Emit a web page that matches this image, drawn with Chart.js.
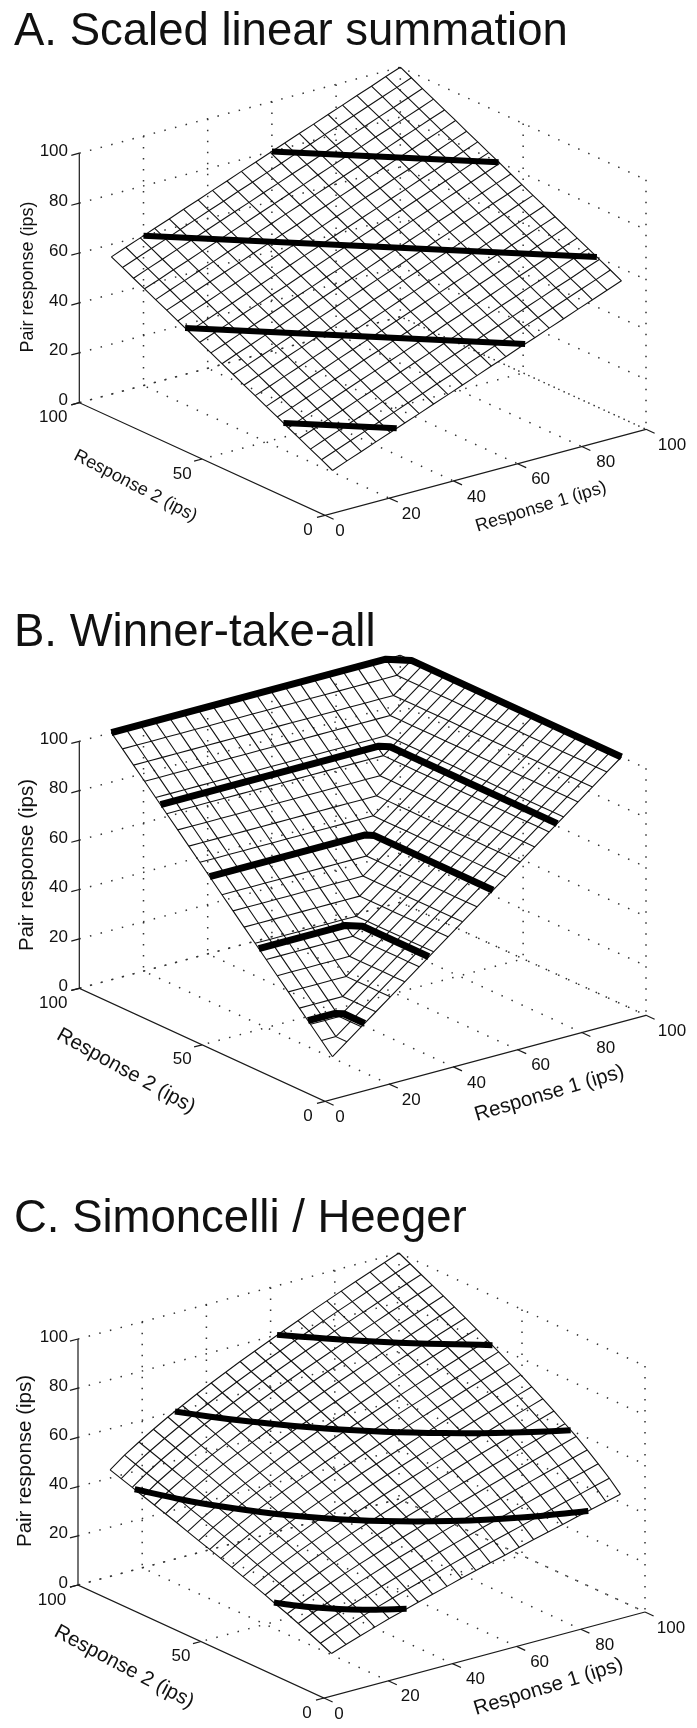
<!DOCTYPE html>
<html>
<head>
<meta charset="utf-8">
<title>Pair response surfaces</title>
<script src="https://cdn.jsdelivr.net/npm/chart.js@4"></script>
<style>
  html, body { margin: 0; background: #fff; }
  #page { position: relative; width: 697px; height: 1728px; }
  canvas { position: absolute; left: 0; }
</style>
</head>
<body>
<div id="page">
  <canvas id="chartA" width="697" height="570" style="top:0"></canvas>
  <canvas id="chartB" width="697" height="580" style="top:570px"></canvas>
  <canvas id="chartC" width="697" height="578" style="top:1150px"></canvas>
</div>
<script>
// ====== Data ======
const meshResponses = [10, 14.5, 19, 23.5, 28, 32.5, 37, 41.5, 46, 50.5, 55, 59.5, 64, 68.5, 73, 77.5, 82, 86.5, 91, 95.5, 100];
const response1Ticks = [0, 20, 40, 60, 80, 100];
const response2Ticks = [0, 50, 100];
const pairTicks = [0, 20, 40, 60, 80, 100];

// surfaces are symmetric, so each row i holds only the columns j <= i
const surfaceA = [
  [10],
  [12.3, 14.5],
  [14.5, 16.8, 19],
  [16.8, 19, 21.3, 23.5],
  [19, 21.3, 23.5, 25.8, 28],
  [21.3, 23.5, 25.8, 28, 30.3, 32.5],
  [23.5, 25.8, 28, 30.3, 32.5, 34.8, 37],
  [25.8, 28, 30.3, 32.5, 34.8, 37, 39.3, 41.5],
  [28, 30.3, 32.5, 34.8, 37, 39.3, 41.5, 43.8, 46],
  [30.3, 32.5, 34.8, 37, 39.3, 41.5, 43.8, 46, 48.3, 50.5],
  [32.5, 34.8, 37, 39.3, 41.5, 43.8, 46, 48.3, 50.5, 52.8, 55],
  [34.8, 37, 39.3, 41.5, 43.8, 46, 48.3, 50.5, 52.8, 55, 57.3, 59.5],
  [37, 39.3, 41.5, 43.8, 46, 48.3, 50.5, 52.8, 55, 57.3, 59.5, 61.8, 64],
  [39.3, 41.5, 43.8, 46, 48.3, 50.5, 52.8, 55, 57.3, 59.5, 61.8, 64, 66.3, 68.5],
  [41.5, 43.8, 46, 48.3, 50.5, 52.8, 55, 57.3, 59.5, 61.8, 64, 66.3, 68.5, 70.8, 73],
  [43.8, 46, 48.3, 50.5, 52.8, 55, 57.3, 59.5, 61.8, 64, 66.3, 68.5, 70.8, 73, 75.3, 77.5],
  [46, 48.3, 50.5, 52.8, 55, 57.3, 59.5, 61.8, 64, 66.3, 68.5, 70.8, 73, 75.3, 77.5, 79.8, 82],
  [48.3, 50.5, 52.8, 55, 57.3, 59.5, 61.8, 64, 66.3, 68.5, 70.8, 73, 75.3, 77.5, 79.8, 82, 84.3, 86.5],
  [50.5, 52.8, 55, 57.3, 59.5, 61.8, 64, 66.3, 68.5, 70.8, 73, 75.3, 77.5, 79.8, 82, 84.3, 86.5, 88.8, 91],
  [52.8, 55, 57.3, 59.5, 61.8, 64, 66.3, 68.5, 70.8, 73, 75.3, 77.5, 79.8, 82, 84.3, 86.5, 88.8, 91, 93.3, 95.5],
  [55, 57.3, 59.5, 61.8, 64, 66.3, 68.5, 70.8, 73, 75.3, 77.5, 79.8, 82, 84.3, 86.5, 88.8, 91, 93.3, 95.5, 97.8, 100]
];
const surfaceB = [
  [10],
  [14.5, 14.5],
  [19, 19, 19],
  [23.5, 23.5, 23.5, 23.5],
  [28, 28, 28, 28, 28],
  [32.5, 32.5, 32.5, 32.5, 32.5, 32.5],
  [37, 37, 37, 37, 37, 37, 37],
  [41.5, 41.5, 41.5, 41.5, 41.5, 41.5, 41.5, 41.5],
  [46, 46, 46, 46, 46, 46, 46, 46, 46],
  [50.5, 50.5, 50.5, 50.5, 50.5, 50.5, 50.5, 50.5, 50.5, 50.5],
  [55, 55, 55, 55, 55, 55, 55, 55, 55, 55, 55],
  [59.5, 59.5, 59.5, 59.5, 59.5, 59.5, 59.5, 59.5, 59.5, 59.5, 59.5, 59.5],
  [64, 64, 64, 64, 64, 64, 64, 64, 64, 64, 64, 64, 64],
  [68.5, 68.5, 68.5, 68.5, 68.5, 68.5, 68.5, 68.5, 68.5, 68.5, 68.5, 68.5, 68.5, 68.5],
  [73, 73, 73, 73, 73, 73, 73, 73, 73, 73, 73, 73, 73, 73, 73],
  [77.5, 77.5, 77.5, 77.5, 77.5, 77.5, 77.5, 77.5, 77.5, 77.5, 77.5, 77.5, 77.5, 77.5, 77.5, 77.5],
  [82, 82, 82, 82, 82, 82, 82, 82, 82, 82, 82, 82, 82, 82, 82, 82, 82],
  [86.5, 86.5, 86.5, 86.5, 86.5, 86.5, 86.5, 86.5, 86.5, 86.5, 86.5, 86.5, 86.5, 86.5, 86.5, 86.5, 86.5, 86.5],
  [91, 91, 91, 91, 91, 91, 91, 91, 91, 91, 91, 91, 91, 91, 91, 91, 91, 91, 91],
  [95.5, 95.5, 95.5, 95.5, 95.5, 95.5, 95.5, 95.5, 95.5, 95.5, 95.5, 95.5, 95.5, 95.5, 95.5, 95.5, 95.5, 95.5, 95.5, 95.5],
  [100, 100, 100, 100, 100, 100, 100, 100, 100, 100, 100, 100, 100, 100, 100, 100, 100, 100, 100, 100, 100]
];
const surfaceC = [
  [10],
  [12.1, 14.5],
  [14.1, 16.7, 19],
  [16, 18.7, 21.2, 23.5],
  [17.9, 20.7, 23.3, 25.7, 28],
  [19.6, 22.6, 25.3, 27.8, 30.2, 32.5],
  [21.4, 24.5, 27.3, 29.9, 32.3, 34.7, 37],
  [23.1, 26.3, 29.2, 31.9, 34.4, 36.9, 39.2, 41.5],
  [24.7, 28, 31, 33.8, 36.4, 39, 41.4, 43.7, 46],
  [26.4, 29.8, 32.9, 35.7, 38.4, 41, 43.5, 45.9, 48.2, 50.5],
  [28, 31.5, 34.7, 37.6, 40.4, 43, 45.6, 48, 50.4, 52.7, 55],
  [29.6, 33.2, 36.4, 39.5, 42.3, 45, 47.6, 50.1, 52.5, 54.9, 57.2, 59.5],
  [31.1, 34.9, 38.2, 41.3, 44.2, 46.9, 49.6, 52.1, 54.6, 57, 59.4, 61.7, 64],
  [32.7, 36.5, 39.9, 43.1, 46, 48.8, 51.5, 54.2, 56.7, 59.2, 61.6, 63.9, 66.2, 68.5],
  [34.3, 38.1, 41.6, 44.8, 47.9, 50.7, 53.5, 56.1, 58.7, 61.2, 63.7, 66.1, 68.4, 70.7, 73],
  [35.8, 39.8, 43.3, 46.6, 49.7, 52.6, 55.4, 58.1, 60.7, 63.3, 65.8, 68.2, 70.6, 72.9, 75.2, 77.5],
  [37.3, 41.4, 45, 48.3, 51.5, 54.4, 57.3, 60, 62.7, 65.3, 67.8, 70.3, 72.7, 75.1, 77.4, 79.7, 82],
  [38.8, 43, 46.6, 50, 53.2, 56.3, 59.2, 62, 64.7, 67.3, 69.9, 72.4, 74.8, 77.2, 79.6, 81.9, 84.2, 86.5],
  [40.3, 44.5, 48.3, 51.7, 55, 58.1, 61, 63.8, 66.6, 69.3, 71.9, 74.4, 76.9, 79.3, 81.8, 84.1, 86.4, 88.7, 91],
  [41.8, 46.1, 49.9, 53.4, 56.7, 59.9, 62.8, 65.7, 68.5, 71.2, 73.9, 76.4, 79, 81.4, 83.9, 86.3, 88.6, 90.9, 93.2, 95.5],
  [43.3, 47.7, 51.5, 55.1, 58.5, 61.6, 64.7, 67.6, 70.4, 73.2, 75.8, 78.4, 81, 83.5, 86, 88.4, 90.8, 93.1, 95.4, 97.7, 100]
];

// thick iso-response lines, points are [response 1, response 2, pair response]
const contoursA = [
  [[60, 100, 80], [100, 60, 80]],
  [[20, 100, 60], [100, 20, 60]],
  [[10, 70, 40], [70, 10, 40]],
  [[10, 30, 20], [30, 10, 20]]
];
const contoursB = [
  [[10, 100, 100], [95.5, 100, 100], [100, 95.5, 100], [100, 10, 100]],
  [[10, 80, 80], [78, 80, 80], [80, 78, 80], [80, 10, 80]],
  [[10, 60, 60], [58.5, 60, 60], [60, 58.5, 60], [60, 10, 60]],
  [[10, 40, 40], [37, 40, 40], [40, 37, 40], [40, 10, 40]],
  [[10, 20, 20], [18.5, 20, 20], [20, 18.5, 20], [20, 10, 20]]
];
const contoursC = [
  [[62, 100, 80], [66, 95.4, 80], [70, 90.7, 80], [75, 85.2, 80], [80, 80, 80], [85.2, 75, 80], [90.7, 70, 80], [95.4, 66, 80], [100, 62, 80]],
  [[30.2, 100, 60], [35, 91.7, 60], [40, 84, 60], [45, 77.2, 60], [50, 70.9, 60], [55, 65.2, 60], [60, 60, 60], [65.2, 55, 60], [70.9, 50, 60], [77.2, 45, 60], [84, 40, 60], [91.7, 35, 60], [100, 30.2, 60]],
  [[10, 90, 40], [15, 77, 40], [20, 66.9, 40], [25, 58.5, 40], [30, 51.4, 40], [35, 45.3, 40], [40, 40, 40], [45.3, 35, 40], [51.4, 30, 40], [58.5, 25, 40], [66.9, 20, 40], [77, 15, 40], [90, 10, 40]],
  [[10, 33.4, 20], [13, 28.5, 20], [16, 24.4, 20], [20, 20, 20], [24.4, 16, 20], [28.5, 13, 20], [33.4, 10, 20]]
];

// ====== Panels ======
const panels = [
  {
    id: 'chartA', top: 0, height: 570, surface: surfaceA, contours: contoursA, thick: 6, tension: 0,
    origin: [325, 515.3], u: [321, -86], v: [-245.7, -112.6], h: 249.5,
    title: 'A. Scaled linear summation', titleY: 45, fontSize: 18,
    pairLabel: [28, 277], r2Label: [135.5, 486, 27.5], r1Label: [541, 507, -17]
  },
  {
    id: 'chartB', top: 570, height: 580, surface: surfaceB, contours: contoursB, thick: 7, tension: 0,
    origin: [325, 1101.3], u: [321, -86], v: [-245.7, -113], h: 247,
    title: 'B. Winner-take-all', titleY: 646, fontSize: 20.5,
    pairLabel: [27, 865], r2Label: [126, 1071, 29], r1Label: [549.5, 1093.5, -16.5]
  },
  {
    id: 'chartC', top: 1150, height: 578, surface: surfaceC, contours: contoursC, thick: 6, tension: 0.3,
    origin: [324, 1698], u: [321, -86], v: [-246, -113], h: 246,
    title: 'C. Simoncelli / Heeger', titleY: 1232, fontSize: 20.5,
    pairLabel: [25, 1461], r2Label: [124, 1667, 28], r1Label: [548.5, 1687, -17]
  }
];

function projector(p) {
  return (r1, r2, z) => ({
    x: p.origin[0] + p.u[0] * r1 / 100 + p.v[0] * r2 / 100,
    y: p.origin[1] + p.u[1] * r1 / 100 + p.v[1] * r2 / 100 - p.h * z / 100
  });
}

function lineSet(points, style) {
  return Object.assign({ data: points, showLine: true, pointRadius: 0, borderColor: '#111', borderWidth: 1.1, fill: false }, style);
}

function buildDatasets(p) {
  const proj = projector(p);
  const sets = [];
  const dotted = { borderColor: '#333', borderWidth: 1.5, borderDash: [1.5, 9.5], order: 3 };
  const axis = { borderColor: '#1a1a1a', borderWidth: 1.2, order: 2 };

  // dotted box grid on the floor and the two back walls
  pairTicks.forEach(z => {
    sets.push(lineSet([proj(0, 100, z), proj(100, 100, z), proj(100, 0, z)], dotted));
  });
  response1Ticks.slice(1).forEach(r => {
    sets.push(lineSet([proj(r, 100, 100), proj(r, 100, 0), proj(r, 0, 0)], dotted));
  });
  response2Ticks.forEach(r => {
    if (r === 0) sets.push(lineSet([proj(100, 0, 100), proj(100, 0, 0)], dotted));
    if (r === 50) sets.push(lineSet([proj(100, r, 100), proj(100, r, 0), proj(0, r, 0)], dotted));
    if (r === 100) sets.push(lineSet([proj(100, r, 0), proj(0, r, 0)], dotted));
  });

  // solid axes and their ticks
  sets.push(lineSet([proj(0, 100, 100), proj(0, 100, 0), proj(0, 0, 0), proj(100, 0, 0)], axis));
  pairTicks.forEach(z => sets.push(lineSet([proj(0, 100, z), proj(-2.5, 100, z)], axis)));
  response2Ticks.forEach(r => sets.push(lineSet([proj(0, r, 0), proj(-2.5, r, 0)], axis)));
  response1Ticks.forEach(r => sets.push(lineSet([proj(r, 0, 0), proj(r, -3.5, 0)], axis)));

  // mesh
  const zAt = (i, j) => p.surface[Math.max(i, j)][Math.min(i, j)];
  meshResponses.forEach((_, i) => {
    sets.push(lineSet(meshResponses.map((r, j) => proj(meshResponses[i], r, zAt(i, j))), { order: 1 }));
    sets.push(lineSet(meshResponses.map((r, j) => proj(r, meshResponses[i], zAt(j, i))), { order: 1 }));
  });

  // thick iso-response lines
  p.contours.forEach(c => {
    sets.push(lineSet(c.map(pt => proj(pt[0], pt[1], pt[2])), {
      borderColor: '#000', borderWidth: p.thick, tension: p.tension, borderJoinStyle: 'round', order: 0
    }));
  });
  return sets;
}

// ====== Text drawn over each chart ======
const r1LabelDx = [15, 22, 23, 23, 24, 26];
const r2LabelDx = [-17, -20, -26];

const labelPlugin = {
  id: 'panelLabels',
  afterDraw(chart, args, opts) {
    const p = opts.panel;
    const proj = projector(p);
    const { ctx, scales: { x, y } } = chart;
    const put = (text, px, py, size, angle, align) => {
      ctx.save();
      ctx.translate(x.getPixelForValue(px), y.getPixelForValue(py));
      ctx.rotate((angle || 0) * Math.PI / 180);
      ctx.font = size + 'px "Liberation Sans", Arial, sans-serif';
      ctx.fillStyle = '#111';
      ctx.textAlign = align || 'center';
      ctx.textBaseline = 'middle';
      ctx.fillText(text, 0, 0);
      ctx.restore();
    };

    ctx.save();
    ctx.font = '45.5px "Liberation Sans", Arial, sans-serif';
    ctx.fillStyle = '#111';
    ctx.textBaseline = 'alphabetic';
    ctx.fillText(p.title, 14, y.getPixelForValue(p.titleY));
    ctx.restore();

    pairTicks.forEach(z => put(String(z), 68, proj(0, 100, z).y - 2, 17, 0, 'right'));
    response2Ticks.forEach((r, k) => {
      const a = proj(0, r, 0);
      put(String(r), a.x + r2LabelDx[k], a.y + 15, 17);
    });
    response1Ticks.forEach((r, k) => {
      const a = proj(r, 0, 0);
      put(String(r), a.x + r1LabelDx[k], a.y + 16, 17);
    });

    put('Pair response (ips)', p.pairLabel[0], p.pairLabel[1], p.fontSize, -90);
    put('Response 2 (ips)', p.r2Label[0], p.r2Label[1], p.fontSize, p.r2Label[2]);
    put('Response 1 (ips)', p.r1Label[0], p.r1Label[1], p.fontSize, p.r1Label[2]);
  }
};

panels.forEach(p => {
  new Chart(document.getElementById(p.id).getContext('2d'), {
    type: 'scatter',
    data: { datasets: buildDatasets(p) },
    plugins: [labelPlugin],
    options: {
      responsive: false,
      animation: false,
      devicePixelRatio: 1,
      layout: { padding: 0 },
      scales: {
        x: { type: 'linear', display: false, min: 0, max: 697 },
        y: { type: 'linear', display: false, reverse: true, min: p.top, max: p.top + p.height }
      },
      plugins: { legend: { display: false }, tooltip: { enabled: false }, panelLabels: { panel: p } }
    }
  });
});
</script>
</body>
</html>
